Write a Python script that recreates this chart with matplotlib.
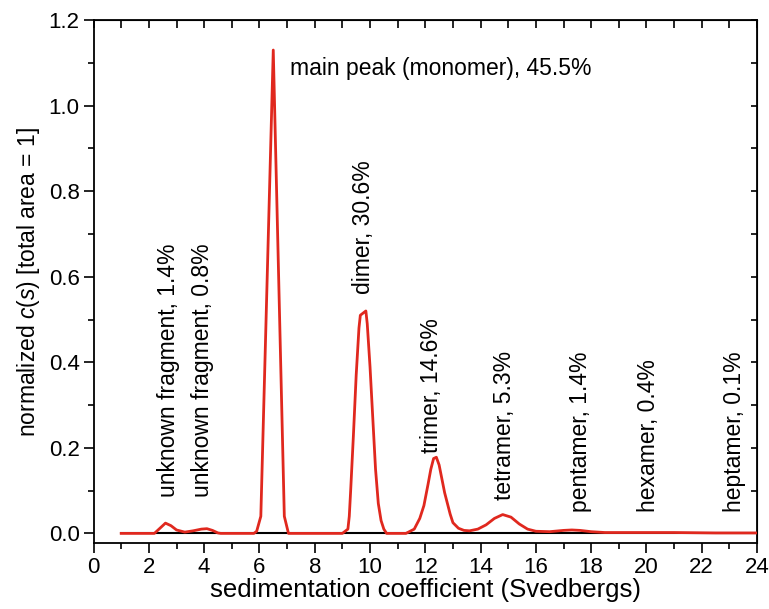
import matplotlib
matplotlib.use("Agg")
import matplotlib.pyplot as plt

plt.rcParams['font.family'] = ['Liberation Sans', 'DejaVu Sans']
plt.rcParams['mathtext.fontset'] = 'custom'
plt.rcParams['mathtext.rm'] = 'Liberation Sans'
plt.rcParams['mathtext.it'] = 'Liberation Sans:italic'

# sedimentation coefficient (S) and normalized c(s)
s_vals = [1.0, 2.2, 2.4, 2.6, 2.8, 3.0, 3.3, 3.6, 3.9, 4.1, 4.3, 4.5, 4.6,
          5.8, 5.9, 6.05, 6.5, 6.9, 7.05,
          9.0, 9.2, 9.25, 9.3, 9.4, 9.5, 9.6, 9.65, 9.75, 9.85, 9.9, 10.0, 10.1,
          10.2, 10.3, 10.4, 10.5, 10.6,
          11.3, 11.6, 11.8, 11.95, 12.1, 12.2, 12.3, 12.4, 12.5, 12.7, 12.9, 13.0,
          13.2, 13.4, 13.6, 13.9, 14.2, 14.5, 14.8, 15.1, 15.4, 15.7, 16.0, 16.5,
          17.0, 17.3, 17.6, 18.0, 18.5, 19.5, 21.0, 22.5, 24.0]
c_vals = [0.0, 0.0, 0.012, 0.024, 0.018, 0.008, 0.003, 0.006, 0.010, 0.011, 0.007, 0.001, 0.0,
          0.0, 0.005, 0.04, 1.13, 0.04, 0.0,
          0.0, 0.01, 0.04, 0.10, 0.23, 0.37, 0.48, 0.51, 0.515, 0.52, 0.49, 0.39, 0.27,
          0.15, 0.07, 0.03, 0.01, 0.0,
          0.0, 0.01, 0.035, 0.065, 0.115, 0.15, 0.175, 0.178, 0.16, 0.095, 0.045, 0.025,
          0.012, 0.007, 0.006, 0.010, 0.020, 0.035, 0.044, 0.038, 0.022, 0.010, 0.005, 0.004,
          0.007, 0.008, 0.007, 0.004, 0.002, 0.002, 0.002, 0.001, 0.001]

# species labels
label_texts = ["unknown fragment, 1.4%", "unknown fragment, 0.8%", "dimer, 30.6%",
               "trimer, 14.6%", "tetramer, 5.3%", "pentamer, 1.4%",
               "hexamer, 0.4%", "heptamer, 0.1%"]
label_s = [2.70, 3.95, 9.75, 12.22, 14.85, 17.6, 20.09, 23.2]
label_c = [0.084, 0.084, 0.56, 0.187, 0.077, 0.049, 0.049, 0.049]
main_label = "main peak (monomer), 45.5%"
main_label_pos = (7.1, 1.088)

x_ticks = list(range(0, 25, 2))
y_ticks = [0.0, 0.2, 0.4, 0.6, 0.8, 1.0, 1.2]

fig = plt.figure(figsize=(7.69, 6.09), dpi=100)
ax = fig.add_axes([0.1217, 0.108, 0.8627, 0.859])

ax.plot([1.0, 24.0], [0, 0], color='black', lw=1.5, zorder=2)
ax.plot(s_vals, c_vals, color='#e0281e', lw=2.0, zorder=3, solid_joinstyle='round')

ax.set_xlim(0, 24)
ax.set_ylim(-0.023, 1.2)
ax.set_xticks(x_ticks)
ax.set_xticks(range(1, 24, 2), minor=True)
ax.set_yticks(y_ticks)
ax.set_yticklabels([f"{v:.1f}" for v in y_ticks])
ax.set_yticks([0.1, 0.3, 0.5, 0.7, 0.9, 1.1], minor=True)
ax.tick_params(axis='both', which='major', direction='out', length=7, width=1.2,
               labelsize=16, pad=3)
ax.tick_params(axis='both', which='minor', direction='out', length=4, width=1.2)

for sp in ax.spines.values():
    sp.set_linewidth(1.3)

top = ax.secondary_xaxis('top')
top.set_xticks(range(0, 25, 1))
top.tick_params(direction='in', length=6, width=1.2, labeltop=False)
top.set_xticklabels([])
right = ax.secondary_yaxis('right')
right.set_yticks([0.1 * i for i in range(0, 13)])
right.tick_params(direction='in', length=4.5, width=1.2, labelright=False)
right.set_yticklabels([])

ax.set_xlabel("sedimentation coefficient (Svedbergs)", fontsize=18.5, labelpad=0)
ax.set_ylabel(r"normalized $c(s)$ [total area = 1]", fontsize=16.5, labelpad=5)

for t, xs, yc in zip(label_texts, label_s, label_c):
    ax.text(xs, yc, t, rotation=90, ha='center', va='bottom', fontsize=16.5)
ax.text(main_label_pos[0], main_label_pos[1], main_label, ha='left', va='center',
        fontsize=16.5)

fig.savefig("out.png", dpi=100)
